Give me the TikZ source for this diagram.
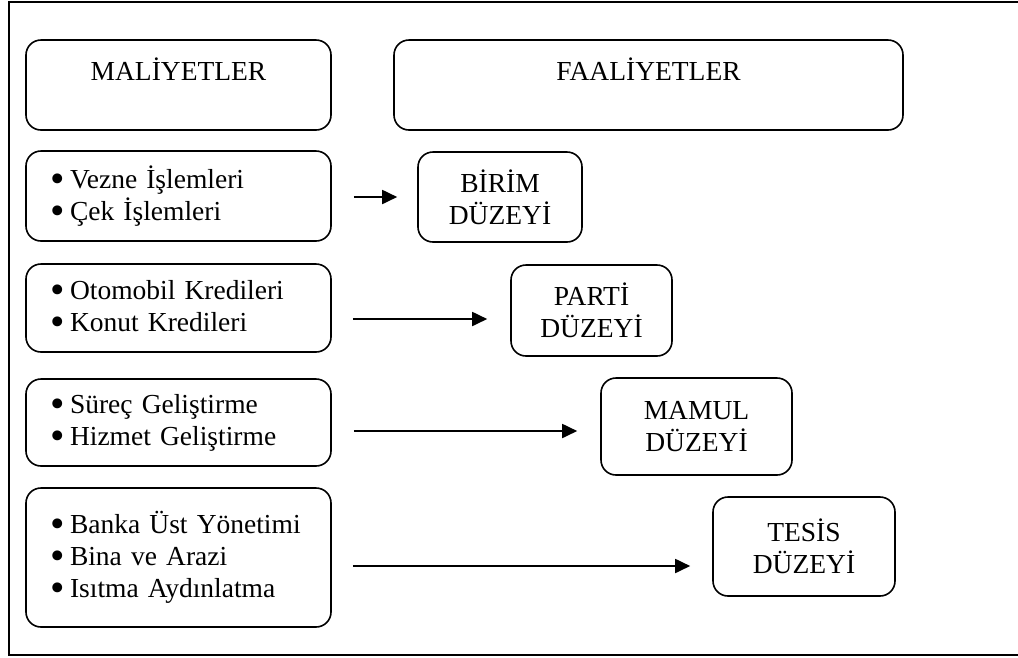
\documentclass[tikz,border=0pt]{standalone}
\usepackage{fontspec}
\setmainfont{Liberation Serif}
\usetikzlibrary{arrows.meta,calc}
\newcommand\blt{\makebox[20pt][l]{\raisebox{-4pt}{\scalebox{1.5}{\textbullet}}}}
\begin{document}
\begin{tikzpicture}[x=1pt,y=-1pt,
  txt/.style={font=\fontsize{27.5}{32}\selectfont},
  rbox/.style={draw,line width=1.6pt,rounded corners=15pt,inner sep=0pt,txt},
  headbox/.style={rbox,text height=40pt,text depth=50pt,anchor=center},
  listbox/.style={rbox,align=left,text width=257pt,inner xsep=24pt,inner ysep=0pt},
  levelbox/.style={rbox,align=center},
  arr/.style={line width=1.8pt,-{Triangle[length=15pt,width=14pt]}},
  frame/.style={line width=1.5pt}]
\useasboundingbox (0,0) rectangle (1018,657);
% outer frame (open at the right)
\draw[frame] (1020,2) -- (9,2) -- (9,655) -- (1020,655);

% headings
\node[headbox,minimum width=305pt] (cost) at (178.5,85) {MALİYETLER};
\node[headbox,minimum width=509pt] (act) at (648.5,85) {FAALİYETLER};

% cost groups
\node[listbox,minimum height=90pt] (c1) at (178.5,196)
  {\blt Vezne İşlemleri\\\blt Çek İşlemleri};
\node[listbox,minimum height=88pt] (c2) at (178.5,308)
  {\blt Otomobil Kredileri\\\blt Konut Kredileri};
\node[listbox,minimum height=87pt] (c3) at (178.5,422.5)
  {\blt Süreç Geliştirme\\\blt Hizmet Geliştirme};
\node[listbox,minimum height=139pt] (c4) at (178.5,557.5)
  {\blt Banka Üst Yönetimi\\\blt Bina ve Arazi\\\blt Isıtma Aydınlatma};

% activity levels
\node[levelbox,minimum width=164pt,minimum height=90pt] (l1) at (500,197)
  {BİRİM\\DÜZEYİ};
\node[levelbox,minimum width=161pt,minimum height=91pt] (l2) at (591.5,310.5)
  {PARTİ\\DÜZEYİ};
\node[levelbox,minimum width=191pt,minimum height=97pt] (l3) at (696.5,426.5)
  {MAMUL\\DÜZEYİ};
\node[levelbox,minimum width=182pt,minimum height=99pt] (l4) at (804,546.5)
  {TESİS\\DÜZEYİ};

% connectors
\draw[arr] ($(c1.east)+(22,1)$) -- ($(l1.west)+(-20,0)$);
\draw[arr] ($(c2.east)+(21,11)$) -- ($(l2.west)+(-23,8.5)$);
\draw[arr] ($(c3.east)+(22,8.5)$) -- ($(l3.west)+(-23,4.5)$);
\draw[arr] ($(c4.east)+(21,8.5)$) -- ($(l4.west)+(-22,19.5)$);
\end{tikzpicture}
\end{document}
